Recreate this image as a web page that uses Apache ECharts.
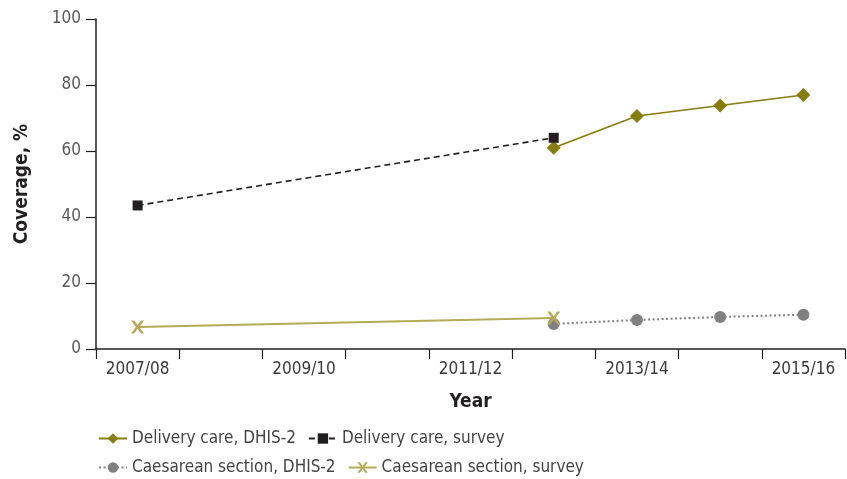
<!DOCTYPE html>
<html><head><meta charset="utf-8">
<script src="https://cdn.jsdelivr.net/npm/echarts@6/dist/echarts.min.js"></script>
<style>html,body{margin:0;padding:0;background:#fff}#c{width:847px;height:479px}</style>
</head><body><div id="c"></div>
<script>
const years = ['2007/08','2008/09','2009/10','2010/11','2011/12','2012/13','2013/14','2014/15','2015/16'];
const deliveryDHIS = [null,null,null,null,null,61,70.6,73.8,77];
const deliverySurvey = [43.5,null,null,null,null,64,null,null,null];
const caesDHIS = [null,null,null,null,null,7.6,8.8,9.7,10.4];
const caesSurvey = [6.7,null,null,null,null,9.4,null,null,null];
const yTicks = [0,20,40,60,80,100];

const FONT = '"Liberation Sans Narrow","DejaVu Sans Condensed",sans-serif';
const crossPath = 'path://M0,0 L2.4,0 L5,3.6 L7.6,0 L10,0 L6.3,5 L10,10 L7.6,10 L5,6.4 L2.4,10 L0,10 L3.7,5 Z';

const chart = echarts.init(document.getElementById('c'));
chart.setOption({
  animation:false,
  textStyle:{fontFamily:FONT},
  grid:{left:96,right:2,top:19,bottom:130,containLabel:false},
  xAxis:{
    type:'category', data:years, boundaryGap:true,
    name:'Year', nameLocation:'middle', nameGap:44,
    nameTextStyle:{fontFamily:FONT,fontWeight:'bold',fontSize:19,color:'#231f20'},
    axisLine:{lineStyle:{color:'#231f20',width:1.5}},
    axisTick:{show:true,interval:0,alignWithLabel:false,length:10,lineStyle:{color:'#231f20',width:1.2}},
    axisLabel:{interval:1,margin:12,fontSize:17,color:'#3a3a3a',fontFamily:FONT},
    splitLine:{show:false}
  },
  yAxis:{
    type:'value', min:0, max:100, interval:20,
    name:'Coverage, %', nameLocation:'middle', nameGap:64,
    nameTextStyle:{fontFamily:FONT,fontWeight:'bold',fontSize:19,color:'#231f20'},
    axisLine:{show:true,lineStyle:{color:'#231f20',width:1.5}},
    axisTick:{show:true,length:10,lineStyle:{color:'#231f20',width:1.2}},
    axisLabel:{margin:15,fontSize:17,color:'#595959',fontFamily:FONT,
      formatter:v=>yTicks.includes(v)?String(v):''},
    splitLine:{show:false}
  },
  legend:[
    {left:93,top:425,itemGap:12,itemWidth:28,itemHeight:13,
     textStyle:{fontSize:17,color:'#444',fontFamily:FONT},
     data:['Delivery care, DHIS-2','Delivery care, survey']},
    {left:93,top:454,itemGap:12,itemWidth:28,itemHeight:13,
     textStyle:{fontSize:17,color:'#444',fontFamily:FONT},
     data:['Caesarean section, DHIS-2','Caesarean section, survey']}
  ],
  series:[
    {name:'Delivery care, DHIS-2',type:'line',data:deliveryDHIS,connectNulls:false,
     symbol:'diamond',symbolSize:14,
     itemStyle:{color:'#857d0c'},lineStyle:{color:'#857d0c',width:1.5}},
    {name:'Delivery care, survey',type:'line',data:deliverySurvey,connectNulls:true,
     symbol:'rect',symbolSize:10,
     itemStyle:{color:'#231f20'},lineStyle:{color:'#231f20',width:1.6,type:[6,4]}},
    {name:'Caesarean section, DHIS-2',type:'line',data:caesDHIS,connectNulls:false,
     symbol:'circle',symbolSize:12,
     itemStyle:{color:'#808080'},lineStyle:{color:'#808080',width:2,type:[2,2.5]}},
    {name:'Caesarean section, survey',type:'line',data:caesSurvey,connectNulls:true,
     symbol:crossPath,symbolSize:13,
     itemStyle:{color:'#b3ab55'},lineStyle:{color:'#b3ab55',width:2}}
  ]
});
</script></body></html>
